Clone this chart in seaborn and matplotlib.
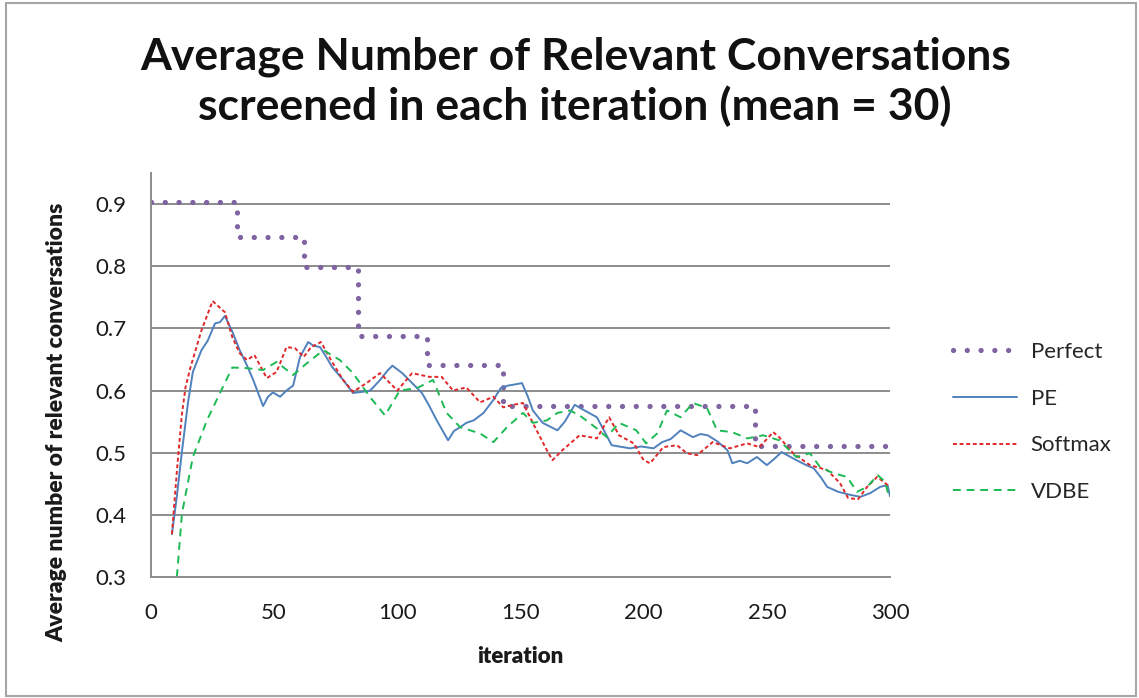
import matplotlib
matplotlib.use("Agg")
import matplotlib.pyplot as plt
import seaborn as sns
import pandas as pd
from matplotlib.patches import Rectangle

# ── data ─────────────────────────────────────────────────────
perfect_x = [0, 35, 62, 84, 112, 143, 245, 300]
perfect_y = [0.903, 0.847, 0.798, 0.687, 0.641, 0.575, 0.511, 0.511]

pe_x = [8.5, 10.5, 12.5, 15, 17, 20.5, 23, 26, 28, 30, 33, 36, 39, 41.5, 45.5, 47.5,
        49.5, 52.4, 55, 57.7, 60.5, 63.8, 66, 68.6, 71, 73.5, 78, 82, 86, 89, 93, 96,
        98, 102, 106, 110, 113, 116, 120.6, 123, 125.5, 128, 131, 135, 139, 142, 145,
        148, 150.6, 153, 155, 159, 165, 168, 172, 176, 181, 184, 187, 190, 194.5, 199,
        204, 207.5, 211, 215, 220, 223, 226, 230, 234, 236, 239, 242, 246, 250, 253,
        256, 262, 266, 269, 272, 274.5, 279, 284, 288, 292, 296, 299, 300]
pe_y = [0.369, 0.43, 0.50, 0.58, 0.63, 0.665, 0.68, 0.708, 0.71, 0.72, 0.695, 0.665,
        0.64, 0.617, 0.575, 0.59, 0.597, 0.59, 0.60, 0.608, 0.654, 0.678, 0.672, 0.67,
        0.655, 0.638, 0.617, 0.596, 0.598, 0.60, 0.617, 0.632, 0.64, 0.628, 0.612,
        0.596, 0.575, 0.552, 0.52, 0.535, 0.541, 0.548, 0.552, 0.564, 0.585, 0.604,
        0.608, 0.61, 0.612, 0.59, 0.568, 0.548, 0.536, 0.55, 0.577, 0.568, 0.557,
        0.535, 0.512, 0.51, 0.507, 0.51, 0.507, 0.517, 0.522, 0.536, 0.525, 0.53,
        0.528, 0.518, 0.504, 0.483, 0.487, 0.483, 0.493, 0.48, 0.49, 0.501, 0.488,
        0.48, 0.475, 0.46, 0.445, 0.437, 0.432, 0.429, 0.435, 0.445, 0.448, 0.43]

softmax_x = [8.5, 10.5, 12.5, 14, 16, 20.5, 25, 30, 33, 36, 39, 42, 47, 51, 55, 58.5,
             62, 65, 69, 73.5, 78, 82, 87.5, 93, 100, 106, 113, 118, 122.6, 128, 133.6,
             139, 143, 147, 151, 155, 160.7, 163, 167, 174, 181, 186, 190, 196, 200,
             202.6, 208, 213.5, 217.6, 221.7, 228, 235, 242, 247, 252.6, 255, 260.7,
             267.5, 274.5, 279.7, 283, 287, 290.7, 294.8, 299, 300]
softmax_y = [0.369, 0.47, 0.56, 0.605, 0.637, 0.697, 0.744, 0.726, 0.686, 0.66, 0.649,
             0.657, 0.62, 0.63, 0.67, 0.668, 0.654, 0.67, 0.678, 0.646, 0.617, 0.598,
             0.612, 0.628, 0.60, 0.628, 0.622, 0.622, 0.60, 0.605, 0.581, 0.59, 0.573,
             0.577, 0.58, 0.548, 0.504, 0.488, 0.504, 0.528, 0.523, 0.557, 0.528, 0.515,
             0.488, 0.483, 0.509, 0.512, 0.499, 0.496, 0.517, 0.507, 0.515, 0.509,
             0.533, 0.525, 0.499, 0.48, 0.472, 0.451, 0.427, 0.425, 0.445, 0.461,
             0.448, 0.445]

vdbe_x = [10.5, 12.6, 17, 22.7, 28, 33, 39, 45.5, 51, 57.7, 63.3, 70, 76.7, 82, 89, 95,
          101, 108, 114.5, 120, 125.5, 133.6, 139, 144.5, 151, 155, 160.7, 165, 170,
          174, 181, 185, 190, 197, 201, 205.5, 209.5, 215, 220, 225.7, 229.8, 236, 242,
          248.5, 255, 262, 267.5, 271.6, 277, 282.6, 286.6, 290.7, 295, 298, 299.6]
vdbe_y = [0.30, 0.403, 0.493, 0.552, 0.596, 0.637, 0.636, 0.633, 0.646, 0.625, 0.644,
          0.665, 0.649, 0.628, 0.589, 0.56, 0.60, 0.604, 0.617, 0.564, 0.541, 0.531,
          0.517, 0.541, 0.564, 0.548, 0.552, 0.564, 0.568, 0.56, 0.539, 0.525, 0.548,
          0.536, 0.515, 0.531, 0.568, 0.557, 0.58, 0.572, 0.536, 0.533, 0.523, 0.528,
          0.52, 0.493, 0.499, 0.477, 0.467, 0.461, 0.437, 0.445, 0.464, 0.453, 0.429]

x_ticks = [0, 50, 100, 150, 200, 250, 300]
y_ticks = [0.3, 0.4, 0.5, 0.6, 0.7, 0.8, 0.9]

# ── figure ───────────────────────────────────────────────────
sns.set_theme(style="white")
plt.rcParams["font.family"] = ["Lato", "DejaVu Sans"]

fig = plt.figure(figsize=(11.39, 6.98), dpi=100)
ax = fig.add_axes([151 / 1139, 1 - 577 / 698, 739 / 1139, 404 / 698])

sns.lineplot(x=perfect_x, y=perfect_y, ax=ax, color="#8064A2", linewidth=3.8,
             drawstyle="steps-post", linestyle=(0, (0.01, 2.6)),
             dash_capstyle="round", label="Perfect", sort=False)
sns.lineplot(x=pe_x, y=pe_y, ax=ax, color="#4F81BD", linewidth=1.4,
             label="PE", sort=False)
sns.lineplot(x=softmax_x, y=softmax_y, ax=ax, color="#E0282A", linewidth=1.4,
             linestyle=(0, (2, 1.4)), label="Softmax", sort=False)
sns.lineplot(x=vdbe_x, y=vdbe_y, ax=ax, color="#1DB954", linewidth=1.4,
             linestyle=(0, (4, 3)), label="VDBE", sort=False)

ax.set_xlim(0, 300)
ax.set_ylim(0.3, 0.95)
ax.set_xticks(x_ticks)
ax.set_yticks(y_ticks)
ax.set_yticklabels([f"{v:.1f}" for v in y_ticks])
ax.tick_params(axis="both", length=0, labelsize=16, labelcolor="#1a1a1a")
ax.tick_params(axis="y", pad=18)
ax.tick_params(axis="x", pad=19)

for v in y_ticks[1:]:
    ax.axhline(v, color="#8c8c8c", linewidth=1.4, zorder=0)
for side in ["top", "right"]:
    ax.spines[side].set_visible(False)
for side in ["left", "bottom"]:
    ax.spines[side].set_color("#8c8c8c")
    ax.spines[side].set_linewidth(1.4)

ax.set_xlabel("iteration", fontsize=16, fontweight="heavy", color="#1a1a1a")
ax.set_ylabel("Average number of relevant conversations", fontsize=16.5,
              fontweight="heavy", color="#1a1a1a")
ax.xaxis.set_label_coords(0.499, -0.17)
ax.yaxis.set_label_coords(-0.113, 0.384)

ax.legend(loc="center left", bbox_to_anchor=(953 / 1139, 1 - 422 / 698),
          bbox_transform=fig.transFigure, frameon=False, fontsize=16,
          handlelength=2.9, handletextpad=0.6, labelspacing=1.2,
          borderpad=0, borderaxespad=0)

fig.text(0.505, 1 - 82 / 698,
         "Average Number of Relevant Conversations\nscreened in each iteration (mean = 30)",
         ha="center", va="center", fontsize=32, fontweight="bold",
         color="#111111", linespacing=1.25)

fig.patches.append(Rectangle((6 / 1139, 2 / 698), 1130 / 1139, 693 / 698,
                             transform=fig.transFigure, fill=False,
                             edgecolor="#a6a6a6", linewidth=1.5))

fig.savefig("out.png", dpi=100)
